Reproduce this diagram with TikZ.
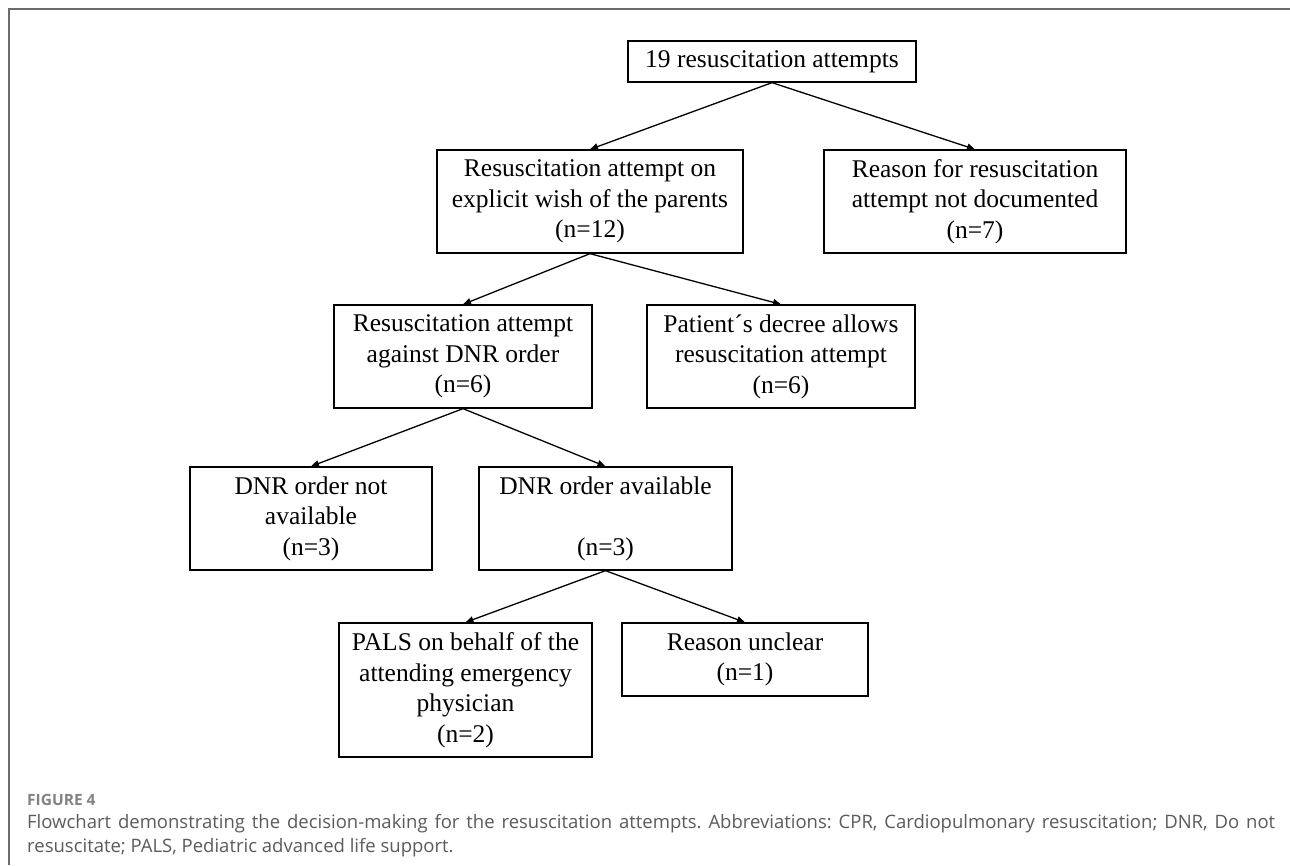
\documentclass[tikz,border=0pt]{standalone}
\usepackage{fontspec}
\setmainfont{Liberation Serif}
\newfontfamily\capfont{Open Sans}
\usetikzlibrary{arrows.meta}
\definecolor{framegray}{HTML}{6B6B6B}
\definecolor{capgray}{HTML}{5A5B5D}
\definecolor{labgray}{HTML}{808285}
\frenchspacing
\begin{document}
\begin{tikzpicture}[x=1pt,y=-1pt,
  box/.style={draw=black, line width=1.3pt, inner sep=0pt, align=center,
    font=\fontsize{25.5}{30.5}\selectfont},
  arr/.style={line width=1.3pt, -{Triangle[length=8pt,width=6.5pt]}},
  capstyle/.style={anchor=base west, inner sep=0pt, text=capgray,
    font=\capfont\fontsize{18.5}{24}\selectfont},
]
\useasboundingbox (0,0) rectangle (1290,865);
\fill[white] (0,0) rectangle (1290,865);
\coordinate (fr1) at (1290,9);
\coordinate (fr2) at (9,9);
\coordinate (fr3) at (9,865);
\draw[framegray, line width=1.5pt] (fr1) -- (fr2) -- (fr3);

\node[box, minimum width=288pt, minimum height=41pt] (n19) at (772,61.5) {19 resuscitation attempts};
\node[box, minimum width=306pt, minimum height=103pt] (wish) at (590,201.5) {Resuscitation attempt on\\explicit wish of the parents\\(n=12)};
\node[box, minimum width=302pt, minimum height=103pt] (nodoc) at (975,201.5) {Reason for resuscitation\\attempt not documented\\(n=7)};
\node[box, minimum width=258pt, minimum height=103pt] (against) at (463,356.5) {Resuscitation attempt\\against DNR order\\(n=6)};
\node[box, minimum width=268pt, minimum height=103pt] (decree) at (781,356.5) {Patient´s decree allows\\resuscitation attempt\\(n=6)};
\node[box, minimum width=242pt, minimum height=103pt] (notavail) at (311,518.5) {DNR order not\\available\\(n=3)};
\node[box, minimum width=253pt, minimum height=103pt] (avail) at (605.5,518.5) {DNR order available\\\mbox{}\\(n=3)};
\node[box, minimum width=253pt, minimum height=134pt] (pals) at (465.5,690) {PALS on behalf of the\\attending emergency\\physician\\(n=2)};
\node[box, minimum width=246pt, minimum height=73pt] (unclear) at (745,659.5) {Reason unclear\\(n=1)};

\draw[arr] (n19.south) -- (wish.north);
\draw[arr] (n19.south) -- (nodoc.north);
\draw[arr] (wish.south) -- (against.north);
\draw[arr] (wish.south) -- (decree.north);
\draw[arr] (against.south) -- (notavail.north);
\draw[arr] (against.south) -- (avail.north);
\draw[arr] (avail.south) -- (pals.north);
\draw[arr] (avail.south) -- (unclear.north);

\node[anchor=base west, inner sep=0pt, text=labgray,
  font=\capfont\fontsize{15.5}{18}\selectfont\bfseries] (fig) at (27,805) {FIGURE 4};
\node[capstyle] (cap1) at (27,828) {\makebox[1248pt][s]{Flowchart demonstrating the decision-making for the resuscitation attempts. Abbreviations: CPR, Cardiopulmonary resuscitation; DNR, Do not}};
\node[capstyle] (cap2) at (27,852) {resuscitate; PALS, Pediatric advanced life support.};
\end{tikzpicture}
\end{document}
